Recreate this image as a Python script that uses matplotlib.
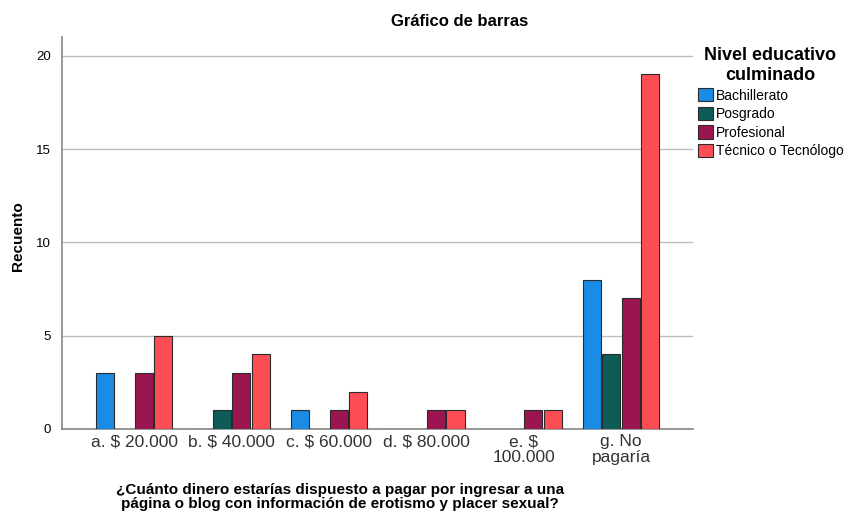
import matplotlib.pyplot as plt
import numpy as np

plt.rcParams['font.family'] = ['Liberation Sans', 'DejaVu Sans']

# datos
categorias = ['a. $ 20.000', 'b. $ 40.000', 'c. $ 60.000', 'd. $ 80.000', 'e. $\n100.000', 'g. No\npagaría']
series = ['Bachillerato', 'Posgrado', 'Profesional', 'Técnico o Tecnólogo']
bachillerato = [3, 0, 1, 0, 0, 8]
posgrado = [0, 1, 0, 0, 0, 4]
profesional = [3, 3, 1, 1, 1, 7]
tecnico = [5, 4, 2, 1, 1, 19]
colores = ['#1a8ce6', '#0d5c58', '#9b1650', '#ff4d55']

valores = [bachillerato, posgrado, profesional, tecnico]

fig = plt.figure(figsize=(8.46, 5.23), dpi=100)
ax = fig.add_axes([0.0733, 0.18, 0.746, 0.749])

x = np.arange(len(categorias))
ancho = 0.2
for i, (nombre, vals, col) in enumerate(zip(series, valores, colores)):
    ax.bar(x + (i - 1.5) * ancho, vals, width=ancho * 0.93, color=col,
           edgecolor='#2b2b2b', linewidth=0.8, label=nombre, zorder=3)

ax.set_xlim(-0.74, 5.74)
ax.set_ylim(0, 21)
ax.set_yticks([0, 5, 10, 15, 20])
ax.set_xticks(x)
ax.set_xticklabels(categorias, fontsize=12.5, color='#333333', linespacing=1.05)
ax.tick_params(axis='y', labelsize=9.5, length=0, pad=8)
ax.tick_params(axis='x', length=0, pad=4)
ax.grid(axis='y', color='#bdbdbd', linewidth=1, zorder=0)
for s in ['top', 'right']:
    ax.spines[s].set_visible(False)
for s in ['left', 'bottom']:
    ax.spines[s].set_color('#888888')
    ax.spines[s].set_linewidth(1.2)

fig.text(18 / 846, 1 - 236 / 523, 'Recuento', rotation=90, ha='center', va='center',
         fontsize=11, fontweight='bold')

fig.text(460 / 846, 1 - 22 / 523, 'Gráfico de barras', ha='center', va='center',
         fontsize=12, fontweight='bold')
fig.text(340 / 846, 1 - 497 / 523,
         '¿Cuánto dinero estarías dispuesto a pagar por ingresar a una\npágina o blog con información de erotismo y placer sexual?',
         ha='center', va='center', fontsize=11, fontweight='bold', linespacing=0.95)

leg = fig.legend(loc='upper left', bbox_to_anchor=(0.818, 0.92), frameon=False,
                 title='Nivel educativo\nculminado', fontsize=10,
                 title_fontproperties={'weight': 'bold', 'size': 13},
                 handlelength=1.1, handleheight=1.1, handletextpad=0.2,
                 labelspacing=0.3, borderaxespad=0)
leg.get_title().set_multialignment('center')
leg._legend_box.align = 'center'

plt.savefig('out.png', dpi=100)
